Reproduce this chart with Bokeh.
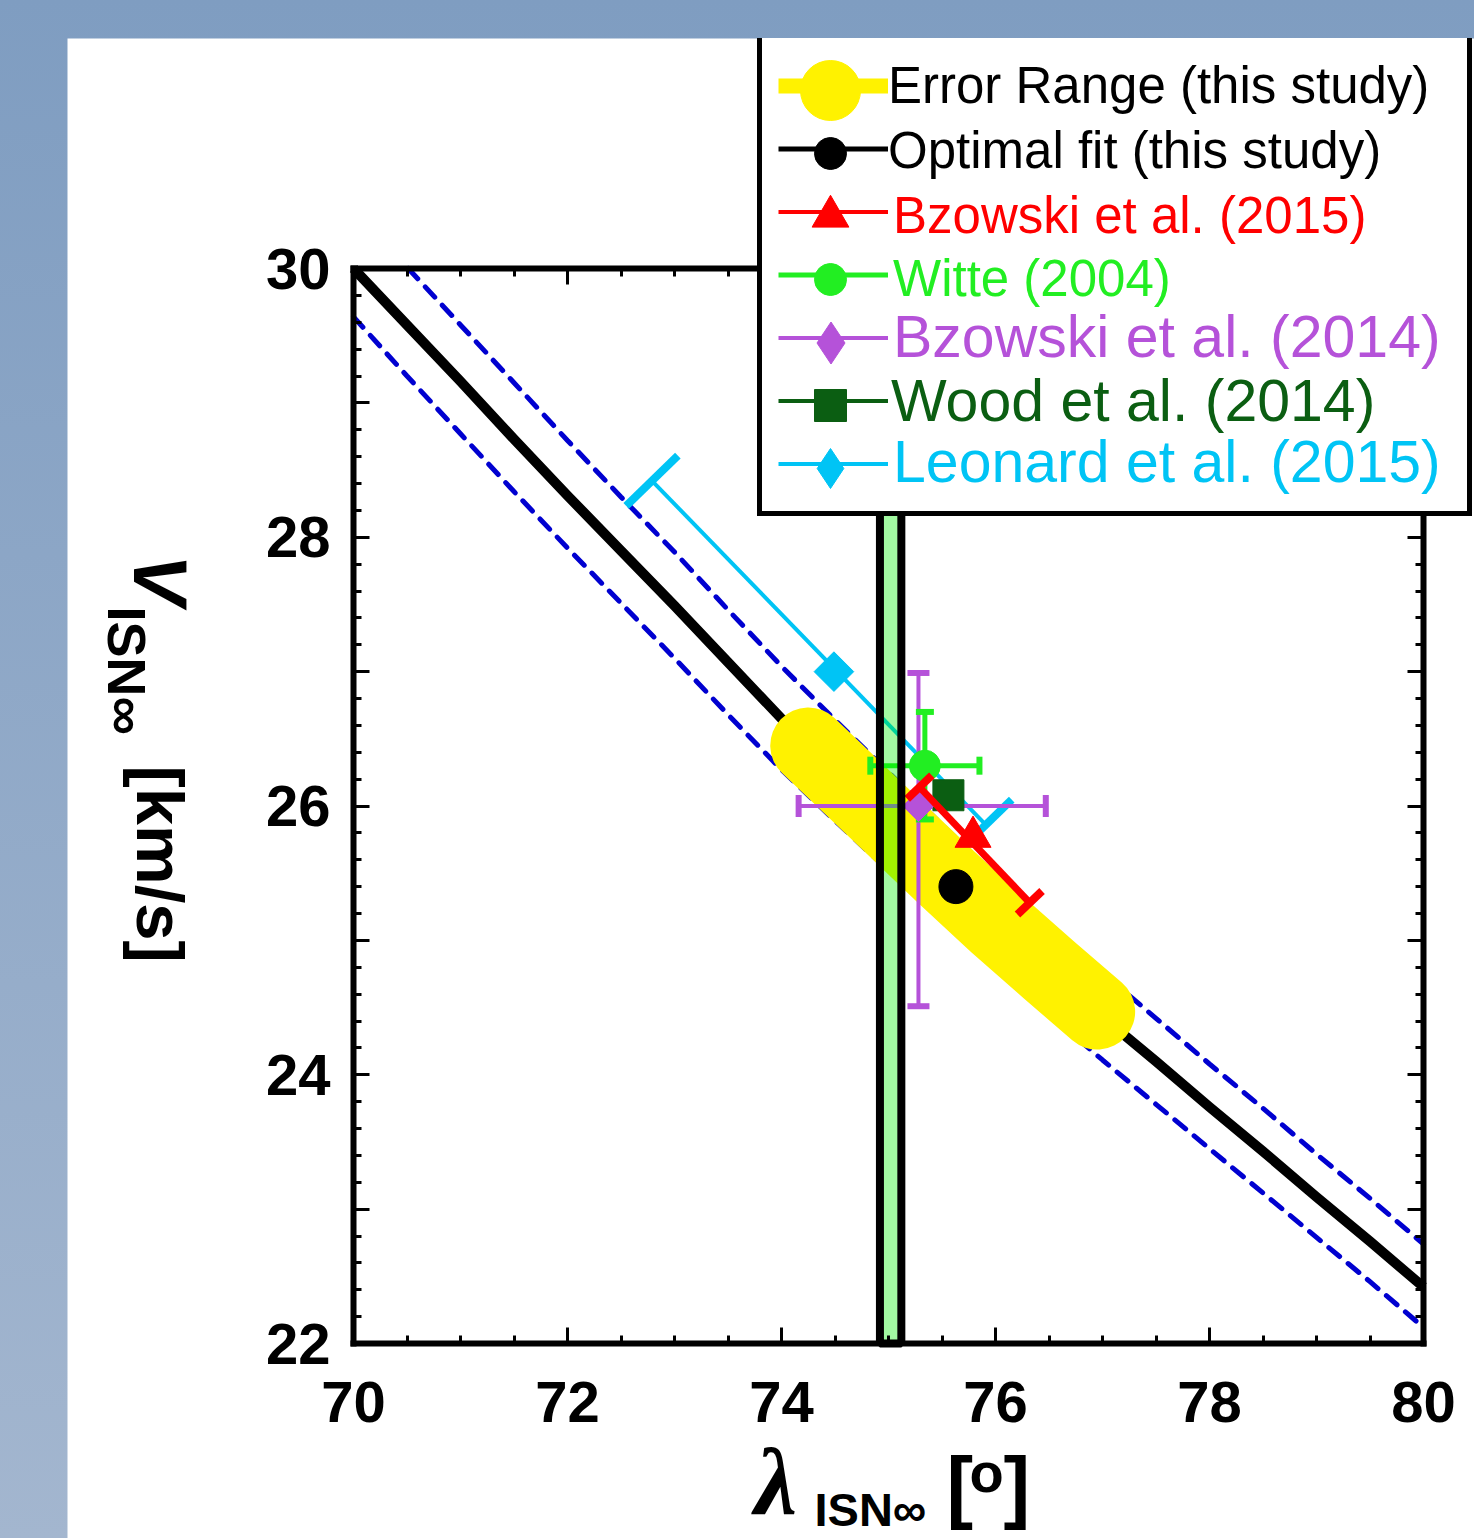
import math
from bokeh.plotting import figure
from bokeh.models import Range1d, LinearAxis, FixedTicker, Legend, LegendItem, Label
from bokeh.layouts import column
from bokeh.embed import file_html
from bokeh.resources import INLINE
from bokeh.core.properties import value

# ---------------- data ----------------
lam_fit = [70.0, 70.5, 71.0, 71.5, 72.0, 72.5, 73.0, 73.5, 74.0, 74.5, 75.0,
           75.5, 76.0, 76.5, 77.0, 77.5, 78.0, 78.5, 79.0, 79.5, 80.0]
v_fit = [30.00, 29.58, 29.16, 28.73, 28.31, 27.90, 27.49, 27.07, 26.65, 26.26, 25.88,
         25.50, 25.13, 24.78, 24.43, 24.10, 23.76, 23.43, 23.09, 22.76, 22.42]
v_fit_upper = [30.44, 30.01, 29.58, 29.15, 28.72, 28.30, 27.89, 27.46, 27.04, 26.64, 26.25,
               25.86, 25.48, 25.12, 24.76, 24.42, 24.08, 23.75, 23.41, 23.08, 22.74]
v_fit_lower = [29.64, 29.20, 28.77, 28.34, 27.92, 27.51, 27.10, 26.68, 26.27, 25.89, 25.52,
               25.15, 24.79, 24.45, 24.11, 23.78, 23.45, 23.12, 22.79, 22.46, 22.12]

lam_range = [74.25, 74.5, 75.0, 75.5, 76.0, 76.5, 76.95]
v_range = [26.45, 26.26, 25.88, 25.50, 25.13, 24.78, 24.47]

band_lam = [74.92, 75.12]

opt_lam, opt_v = [75.63], [25.40]

bz15_lam, bz15_v = [75.79], [25.77]
bz15_bar_lam, bz15_bar_v = [75.29, 76.32], [26.14, 25.28]

witte_lam, witte_v = [75.34], [26.30]
witte_lam_lo, witte_lam_hi = [74.83], [75.85]
witte_v_lo, witte_v_hi = [25.90], [26.70]

bz14_lam, bz14_v = [75.28], [26.00]
bz14_lam_lo, bz14_lam_hi = [74.16], [76.47]
bz14_v_lo, bz14_v_hi = [24.51], [26.99]

wood_lam, wood_v = [75.56], [26.08]

leo_lam, leo_v = [74.49], [27.00]
leo_bar_lam, leo_bar_v = [72.79, 75.91], [28.42, 25.86]

x_major = [70, 72, 74, 76, 78, 80]
y_major = [22, 23, 24, 25, 26, 27, 28, 29, 30]
y_labels = {22: "22", 23: "", 24: "24", 25: "", 26: "26", 27: "", 28: "28", 29: "", 30: "30"}

legend_labels = ["Error Range (this study)", "Optimal fit (this study)", "Bzowski et al. (2015)",
                 "Witte (2004)", "Bzowski et al. (2014)", "Wood et al. (2014)",
                 "Leonard et al. (2015)"]

# ---------------- styles / geometry ----------------
YELLOW = "#fff200"
BLUE = "#0000d0"
RED = "#ff0000"
WITTE = "#22ee22"
PURPLE = "#b552d9"
WOOD = "#0b5e12"
CYAN = "#00c4f5"
FONT = "Liberation Sans"
BASE_SHIFT = 0.36   # measured offset of the rendered baseline (in em)

X0, X1, Y0, Y1 = 70, 80, 22, 30          # axis box (data)
BOX_L, BOX_R, BOX_T, BOX_B = 353, 1423, 268, 1343   # axis box in page pixels
OX, OY = 67, 38                          # figure origin in page pixels
CW, CH = 1474 - OX, 1538 - OY            # figure (= frame) size
PX = (BOX_R - BOX_L) / (X1 - X0)
PY = (BOX_B - BOX_T) / (Y1 - Y0)
XS = X0 - (BOX_L - OX) / PX
XE = X1 + (OX + CW - BOX_R) / PX
YE = Y1 + (BOX_T - OY) / PY
YS = Y0 - (OY + CH - BOX_B) / PY

x_minor = [X0 + 0.5 * i for i in range(21)]
y_minor = [round(Y0 + 0.2 * i, 2) for i in range(41)]

p = figure(frame_width=CW, frame_height=CH, x_range=Range1d(XS, XE), y_range=Range1d(YS, YE),
           output_backend="svg", toolbar_location=None, title_location=None,
           min_border=0, min_border_left=0, min_border_right=0, min_border_top=0,
           min_border_bottom=0, x_axis_location=None, y_axis_location=None)
p.margin = (OY, 0, 0, OX)
p.outline_line_color = None
p.background_fill_color = "white"
p.border_fill_color = "white"
p.xgrid.visible = False
p.ygrid.visible = False


def make_axis(ticker, loc, bounds, labels=True, overrides=None, standoff=20):
    ax = LinearAxis(ticker=ticker, fixed_location=loc, bounds=bounds,
                    axis_line_width=6, axis_line_color="black", axis_line_cap="square",
                    major_tick_in=16, major_tick_out=0, minor_tick_in=8, minor_tick_out=0,
                    major_tick_line_width=3, minor_tick_line_width=3,
                    major_tick_line_color="black", minor_tick_line_color="black",
                    major_label_text_font=FONT, major_label_text_font_style="bold",
                    major_label_text_font_size="58px", major_label_text_color="black",
                    major_label_standoff=standoff)
    if overrides:
        ax.major_label_overrides = overrides
    if not labels:
        ax.major_label_text_color = None
    return ax


p.add_layout(make_axis(FixedTicker(ticks=x_major, minor_ticks=x_minor), Y0, (X0, X1),
                       standoff=38), "below")
p.add_layout(make_axis(FixedTicker(ticks=y_major, minor_ticks=y_minor), X0, (Y0, Y1),
                       overrides=y_labels, standoff=23), "left")
p.add_layout(make_axis(FixedTicker(ticks=x_major, minor_ticks=x_minor), Y1, (X0, X1),
                       labels=False), "above")
p.add_layout(make_axis(FixedTicker(ticks=y_major, minor_ticks=y_minor), X1, (Y0, Y1),
                       labels=False), "right")


def clip_to_box(xs, ys):
    """clip a polyline to the axis box (Liang-Barsky per segment)"""
    ox, oy = [], []
    for i in range(len(xs) - 1):
        x0, y0, x1, y1 = xs[i], ys[i], xs[i + 1], ys[i + 1]
        dx, dy = x1 - x0, y1 - y0
        t0, t1 = 0.0, 1.0
        ok = True
        for pp, qq in ((-dx, x0 - X0), (dx, X1 - x0), (-dy, y0 - Y0), (dy, Y1 - y0)):
            if pp == 0:
                if qq < 0:
                    ok = False
                continue
            r = qq / pp
            if pp < 0:
                t0 = max(t0, r)
            else:
                t1 = min(t1, r)
        if not ok or t0 > t1:
            continue
        a = (x0 + t0 * dx, y0 + t0 * dy)
        b = (x0 + t1 * dx, y0 + t1 * dy)
        if not ox or (abs(ox[-1] - a[0]) > 1e-9 or abs(oy[-1] - a[1]) > 1e-9):
            ox.append(a[0]); oy.append(a[1])
        ox.append(b[0]); oy.append(b[1])
    return ox, oy


def diag_caps(lams, vs, half_px):
    dx = (lams[1] - lams[0]) * PX
    dy = -(vs[1] - vs[0]) * PY
    L = math.hypot(dx, dy)
    nx, ny = -dy / L, dx / L
    dl = nx * half_px / PX
    dv = -ny * half_px / PY
    return ([l - dl for l in lams], [v - dv for v in vs],
            [l + dl for l in lams], [v + dv for v in vs])


# dashed envelope and fit curve
ux, uy = clip_to_box(lam_fit, v_fit_upper)
lx, ly = clip_to_box(lam_fit, v_fit_lower)
p.line(ux, uy, line_color=BLUE, line_width=5, line_dash="14 11", line_cap="round")
p.line(lx, ly, line_color=BLUE, line_width=5, line_dash="14 11", line_cap="round")
fx, fy = clip_to_box(lam_fit, v_fit)
fit_proxy = p.line(fx, fy, line_color="black", line_width=5)
p.line(fx, fy, line_color="black", line_width=10, line_join="round")

# Leonard error bar (under the yellow band)
leo_bar = p.segment(x0=leo_bar_lam[:1], y0=leo_bar_v[:1], x1=leo_bar_lam[1:], y1=leo_bar_v[1:],
                    line_color=CYAN, line_width=4)
c = diag_caps(leo_bar_lam, leo_bar_v, 36)
p.segment(x0=c[0], y0=c[1], x1=c[2], y1=c[3], line_color=CYAN, line_width=8)

# yellow error range
yel_line_proxy = p.line(lam_range, v_range, line_color=YELLOW, line_width=15)
yel_circ_proxy = p.scatter(lam_range[:1], v_range[:1], marker="circle", size=20, color=YELLOW)
p.line(lam_range, v_range, line_color=YELLOW, line_width=76, line_cap="round", line_join="round")

# Bzowski 2014 bars
hc = 11
bz14_bars = p.segment(x0=[bz14_lam_lo[0], bz14_lam[0]], y0=[bz14_v[0], bz14_v_lo[0]],
                      x1=[bz14_lam_hi[0], bz14_lam[0]], y1=[bz14_v[0], bz14_v_hi[0]],
                      line_color=PURPLE, line_width=4)
p.segment(x0=[bz14_lam_lo[0], bz14_lam_hi[0], bz14_lam[0] - hc / PX, bz14_lam[0] - hc / PX],
          y0=[bz14_v[0] - hc / PY, bz14_v[0] - hc / PY, bz14_v_lo[0], bz14_v_hi[0]],
          x1=[bz14_lam_lo[0], bz14_lam_hi[0], bz14_lam[0] + hc / PX, bz14_lam[0] + hc / PX],
          y1=[bz14_v[0] + hc / PY, bz14_v[0] + hc / PY, bz14_v_lo[0], bz14_v_hi[0]],
          line_color=PURPLE, line_width=6)

# Witte bars
hw = 9
witte_bars = p.segment(x0=[witte_lam_lo[0], witte_lam[0]], y0=[witte_v[0], witte_v_lo[0]],
                       x1=[witte_lam_hi[0], witte_lam[0]], y1=[witte_v[0], witte_v_hi[0]],
                       line_color=WITTE, line_width=5)
p.segment(x0=[witte_lam_lo[0], witte_lam_hi[0], witte_lam[0] - hw / PX, witte_lam[0] - hw / PX],
          y0=[witte_v[0] - hw / PY, witte_v[0] - hw / PY, witte_v_lo[0], witte_v_hi[0]],
          x1=[witte_lam_lo[0], witte_lam_hi[0], witte_lam[0] + hw / PX, witte_lam[0] + hw / PX],
          y1=[witte_v[0] + hw / PY, witte_v[0] + hw / PY, witte_v_lo[0], witte_v_hi[0]],
          line_color=WITTE, line_width=6)

# markers
wood_proxy = p.segment(x0=wood_lam, y0=wood_v, x1=wood_lam, y1=wood_v, line_color=WOOD, line_width=4)
wood_marker = p.scatter(wood_lam, wood_v, marker="square", size=31, color=WOOD)
witte_marker = p.scatter(witte_lam, witte_v, marker="circle", size=31, color=WITTE)
bz14_proxy = p.scatter(bz14_lam, bz14_v, marker="diamond", size=26, color=PURPLE)
p.scatter(bz14_lam, bz14_v, marker="square", angle=math.pi / 4, size=22, color=PURPLE)

bz15_proxy = p.segment(x0=bz15_bar_lam[:1], y0=bz15_bar_v[:1], x1=bz15_bar_lam[1:], y1=bz15_bar_v[1:],
                       line_color=RED, line_width=4)
p.segment(x0=bz15_bar_lam[:1], y0=bz15_bar_v[:1], x1=bz15_bar_lam[1:], y1=bz15_bar_v[1:],
          line_color=RED, line_width=7)
c = diag_caps(bz15_bar_lam, bz15_bar_v, 17)
p.segment(x0=c[0], y0=c[1], x1=c[2], y1=c[3], line_color=RED, line_width=8)
bz15_marker = p.scatter(bz15_lam, bz15_v, marker="triangle", size=36, color=RED)

opt_marker = p.scatter(opt_lam, opt_v, marker="circle", size=34, color="black")

leo_proxy = p.scatter(leo_lam, leo_v, marker="diamond", size=34, color=CYAN)
p.scatter(leo_lam, leo_v, marker="square", angle=math.pi / 4, size=28, color=CYAN)

# green band on top
p.quad(left=band_lam[:1], right=band_lam[1:], bottom=[Y0], top=[Y1], fill_color="#00f000",
       fill_alpha=0.37, line_color="black", line_width=8)

# ---------------- legend ----------------
def sx(ix):
    return ix - OX


def sy(iy):
    return OY + CH - iy


row_c = [90, 153, 216, 279, 342, 405, 468]
GH = 63
PAD = 16
leg_left = 757
leg_right = 1462
leg_bottom = row_c[0] - GH / 2 - PAD + 2 * PAD + GH * len(row_c)
line_renderers = [[yel_line_proxy], [fit_proxy], [bz15_proxy], [witte_bars], [bz14_bars],
                  [wood_proxy], [leo_bar]]
leg = Legend(items=[LegendItem(label=value(""), renderers=r) for r in line_renderers],
             location=(sx(leg_left), sy(leg_bottom)), orientation="vertical",
             glyph_width=110, glyph_height=GH, label_height=20,
             label_width=leg_right - leg_left - 2 * PAD - 115,
             label_standoff=5, spacing=0, padding=PAD, margin=0,
             border_line_color="black", border_line_width=5, border_line_alpha=1.0,
             background_fill_color="white", background_fill_alpha=1.0,
             label_text_font_size="10px")
p.add_layout(leg, "center")

# marker symbols (one small legend each, so that the symbol size can be set)
marker_renderers = [yel_circ_proxy, opt_marker, bz15_marker, witte_marker, bz14_proxy,
                    wood_marker, leo_proxy]
marker_boxes = [150, 80, 92, 80, 105, 80, 100]
for r, b, rc in zip(marker_renderers, marker_boxes, row_c):
    p.add_layout(Legend(items=[LegendItem(label=value(""), renderers=[r])],
                        location=(sx(830 - b / 2), sy(rc + b / 2)), glyph_width=b, glyph_height=b,
                        label_width=0, label_height=0, label_standoff=0, padding=0, margin=0,
                        border_line_color=None, background_fill_color=None,
                        label_text_font_size="10px"), "center")

# coloured legend texts (one label-only legend per row)
leg_colors = ["black", "black", RED, WITTE, PURPLE, WOOD, CYAN]
leg_sizes = [51, 51, 51, 51, 59, 59, 59]
leg_x = [888, 888, 893, 893, 893, 891, 893]
leg_base = [104, 169, 234, 297, 362, 426, 487]
RH = 60
for txt, col, fs, xx, yy, r in zip(legend_labels, leg_colors, leg_sizes, leg_x, leg_base,
                                   line_renderers):
    mid = yy - BASE_SHIFT * fs
    p.add_layout(Legend(items=[LegendItem(label=value(txt), renderers=r)],
                        location=(sx(xx), sy(mid + RH / 2)), glyph_width=0, glyph_height=RH,
                        label_width=0, label_height=RH, label_standoff=0, padding=0, margin=0,
                        border_line_color=None, background_fill_color=None,
                        label_text_color=col, label_text_font=FONT,
                        label_text_font_size=f"{fs}px", label_text_baseline="middle"), "center")


def add_text(txt, ix, iy, size_px, color="black", style="bold", font=FONT, angle=0.0):
    """(ix, iy) = wanted baseline start in page pixels"""
    shift = BASE_SHIFT * size_px
    if angle == 0.0:
        ax_, ay_ = ix, iy - shift
    else:  # rotated clockwise: text 'up' points to +x
        ax_, ay_ = ix + shift, iy
    p.add_layout(Label(x=sx(ax_), y=sy(ay_), x_units="screen", y_units="screen", text=txt,
                       text_color=color, text_font=font, text_font_size=f"{size_px}px",
                       text_font_style=style, text_align="left", text_baseline="alphabetic",
                       angle=angle, level="overlay"))


# x axis label: lambda_ISN∞ [o]
add_text("λ", 754, 1516, 96, style="bold italic", font="Liberation Serif")
add_text("ISN∞", 814, 1526, 47)
add_text("[", 946, 1514, 80)
add_text("o", 969, 1492, 56)
add_text("]", 1003, 1514, 80)

# y axis label: V_ISN∞ [km/s] (rotated, reading downward)
add_text("V", 133, 554, 76, style="bold italic", angle=-math.pi / 2)
add_text("ISN∞", 107, 606, 54, angle=-math.pi / 2)
add_text("[km/s]", 136, 765, 67, angle=-math.pi / 2)

layout = column(p, styles={"background": "linear-gradient(180deg, #7f9dc1 0%, #a3b6cf 100%)"})

open("out.html", "w").write(file_html(layout, INLINE))
